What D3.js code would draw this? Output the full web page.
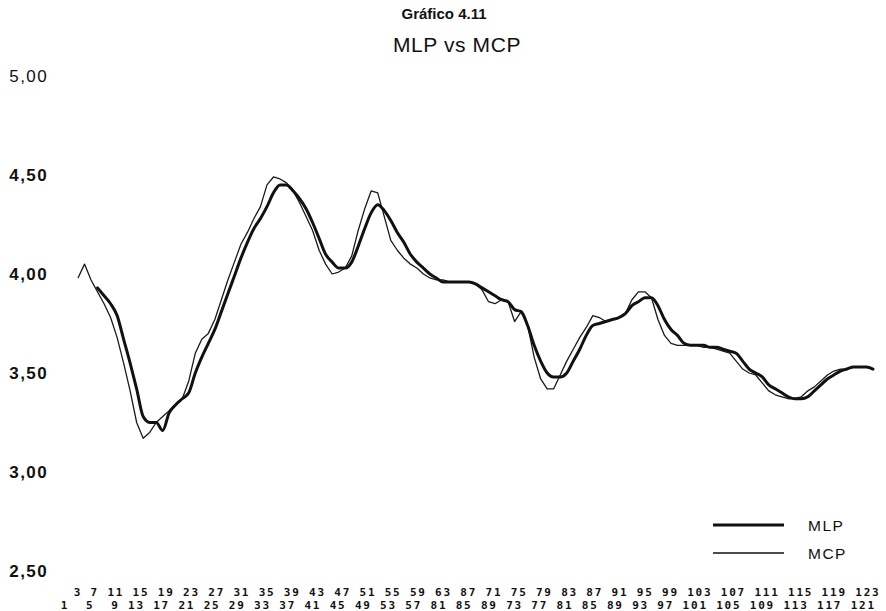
<!DOCTYPE html>
<html lang="es">
<head>
<meta charset="utf-8">
<script src="https://cdn.jsdelivr.net/npm/d3@7/dist/d3.min.js"></script>
<style>
  html, body { margin: 0; padding: 0; background: #fff; }
  svg { display: block; }
</style>
</head>
<body>
<svg id="chart" width="886" height="611"></svg>
<script>
// Periods 1..123
const periods = d3.range(1, 124);

// MLP series (starts at period 4)
const mlp = [
  null, null, null, 3.93, 3.89, 3.85, 3.79, 3.67, 3.55, 3.42,
  3.28, 3.25, 3.25, 3.21, 3.30, 3.34, 3.37, 3.40, 3.50, 3.58,
  3.65, 3.72, 3.81, 3.90, 3.99, 4.08, 4.16, 4.23, 4.28, 4.34,
  4.41, 4.45, 4.45, 4.42, 4.38, 4.33, 4.26, 4.18, 4.10, 4.06,
  4.03, 4.03, 4.06, 4.14, 4.23, 4.31, 4.35, 4.32, 4.27, 4.21,
  4.16, 4.10, 4.06, 4.03, 4.00, 3.98, 3.96, 3.96, 3.96, 3.96,
  3.96, 3.95, 3.93, 3.91, 3.89, 3.87, 3.86, 3.82, 3.81, 3.74,
  3.64, 3.56, 3.50, 3.48, 3.48, 3.50, 3.56, 3.62, 3.69, 3.74,
  3.75, 3.76, 3.77, 3.78, 3.80, 3.84, 3.86, 3.88, 3.88, 3.84,
  3.77, 3.72, 3.69, 3.65, 3.64, 3.64, 3.64, 3.63, 3.63, 3.62,
  3.61, 3.60, 3.56, 3.52, 3.50, 3.48, 3.44, 3.42, 3.40, 3.38,
  3.37, 3.37, 3.38, 3.41, 3.44, 3.47, 3.49, 3.51, 3.52, 3.53,
  3.53, 3.53, 3.52
];

// MCP series
const mcp = [
  3.98, 4.05, 3.97, 3.91, 3.85, 3.78, 3.68, 3.55, 3.41, 3.25,
  3.17, 3.20, 3.25, 3.28, 3.31, 3.34, 3.37, 3.46, 3.60, 3.67,
  3.70, 3.77, 3.87, 3.97, 4.06, 4.15, 4.21, 4.28, 4.34, 4.45,
  4.49, 4.48, 4.46, 4.42, 4.36, 4.29, 4.22, 4.12, 4.05, 4.00,
  4.01, 4.03, 4.09, 4.22, 4.33, 4.42, 4.41, 4.29, 4.17, 4.12,
  4.08, 4.05, 4.03, 4.00, 3.98, 3.97, 3.97, 3.96, 3.96, 3.96,
  3.96, 3.95, 3.92, 3.86, 3.85, 3.87, 3.86, 3.76, 3.81, 3.74,
  3.58, 3.47, 3.42, 3.42, 3.49, 3.56, 3.62, 3.68, 3.73, 3.79,
  3.78, 3.76, 3.77, 3.78, 3.80, 3.87, 3.91, 3.91, 3.88, 3.77,
  3.69, 3.65, 3.64, 3.64, 3.64, 3.64, 3.63, 3.63, 3.62, 3.61,
  3.60, 3.56, 3.52, 3.50, 3.49, 3.45, 3.41, 3.39, 3.38, 3.37,
  3.37, 3.38, 3.41, 3.43, 3.46, 3.49, 3.51, 3.52, 3.52, 3.53,
  3.53, 3.53, 3.52
];

// Y axis ticks
const yTicks = [2.5, 3.0, 3.5, 4.0, 4.5, 5.0];

// Printed period labels, two staggered rows
const topLabels = ["3","7","11","15","19","23","27","31","35","39","43","47","51","55","59","63","87","71","75","79","83","87","91","95","99","103","107","111","115","119","123"];
const bottomLabels = ["1","5","9","13","17","21","25","29","33","37","41","45","49","53","57","81","85","89","73","77","81","85","89","93","97","101","105","109","113","117","121"];

const seriesNames = ["MLP", "MCP"];

const svg = d3.select("#chart");

const x = d3.scalePoint().domain(periods).range([78, 873]);
const y = d3.scaleLinear().domain([2.5, 5.0]).range([571, 76]);

// Titles
svg.append("text")
  .attr("x", 444).attr("y", 19)
  .attr("text-anchor", "middle")
  .style("font-family", "'Liberation Sans', Arial, sans-serif")
  .style("font-weight", "bold")
  .style("font-size", "15px")
  .style("fill", "#111")
  .text("Gráfico 4.11");

svg.append("text")
  .attr("x", 457).attr("y", 52)
  .attr("text-anchor", "middle")
  .style("font-family", "'Liberation Sans', Arial, sans-serif")
  .style("font-size", "21px")
  .style("letter-spacing", "0.6px")
  .style("fill", "#111")
  .text("MLP vs MCP");

// Y axis labels
const fmt = v => d3.format(".2f")(v).replace(".", ",");
const yAxis = svg.append("g")
  .attr("transform", "translate(50,0)")
  .call(d3.axisLeft(y).tickValues(yTicks).tickSize(0).tickPadding(2).tickFormat(fmt));
yAxis.select(".domain").remove();
yAxis.selectAll("text")
  .style("font-family", "'Liberation Sans', Arial, sans-serif")
  .style("font-size", "17px")
  .style("letter-spacing", "1.4px")
  .style("font-weight", d => d === 5.0 ? "normal" : "bold")
  .style("fill", "#111");

// Period labels
const rowFont = sel => sel
  .attr("xml:space", "preserve")
  .style("white-space", "pre")
  .style("font-family", "'DejaVu Sans Mono', monospace")
  .style("font-weight", "bold")
  .style("font-size", "11px")
  .style("letter-spacing", "1.78px")
  .style("fill", "#111");

svg.append("text")
  .attr("x", 73.8).attr("y", 596)
  .call(rowFont)
  .text(topLabels.join(" "));

svg.append("text")
  .attr("x", 52.4).attr("y", 609)
  .call(rowFont)
  .text(bottomLabels.map(s => s.padStart(2, " ")).join(" "));

// Lines
const line = d3.line()
  .defined(d => d[1] != null)
  .x(d => x(d[0]))
  .y(d => y(d[1]));

svg.append("path")
  .datum(periods.map((p, i) => [p, mcp[i]]))
  .attr("fill", "none")
  .attr("stroke", "#1a1a1a")
  .attr("stroke-width", 1.3)
  .attr("stroke-linejoin", "round")
  .attr("d", line.curve(d3.curveLinear));

svg.append("path")
  .datum(periods.map((p, i) => [p, mlp[i]]))
  .attr("fill", "none")
  .attr("stroke", "#111")
  .attr("stroke-width", 3)
  .attr("stroke-linejoin", "round")
  .attr("stroke-linecap", "round")
  .attr("d", line.curve(d3.curveMonotoneX));

// Legend
const legend = svg.append("g").attr("transform", "translate(713,525)");
seriesNames.forEach((name, i) => {
  const g = legend.append("g").attr("transform", `translate(0,${i * 28})`);
  g.append("line")
    .attr("x1", 0).attr("x2", 71)
    .attr("stroke", "#111")
    .attr("stroke-width", i === 0 ? 3.2 : 1.3);
  g.append("text")
    .attr("x", 95).attr("dy", "0.36em")
    .style("font-family", "'Liberation Sans', Arial, sans-serif")
    .style("font-size", "15.5px")
    .style("letter-spacing", "1.5px")
    .style("fill", "#111")
    .text(name);
});
</script>
</body>
</html>
